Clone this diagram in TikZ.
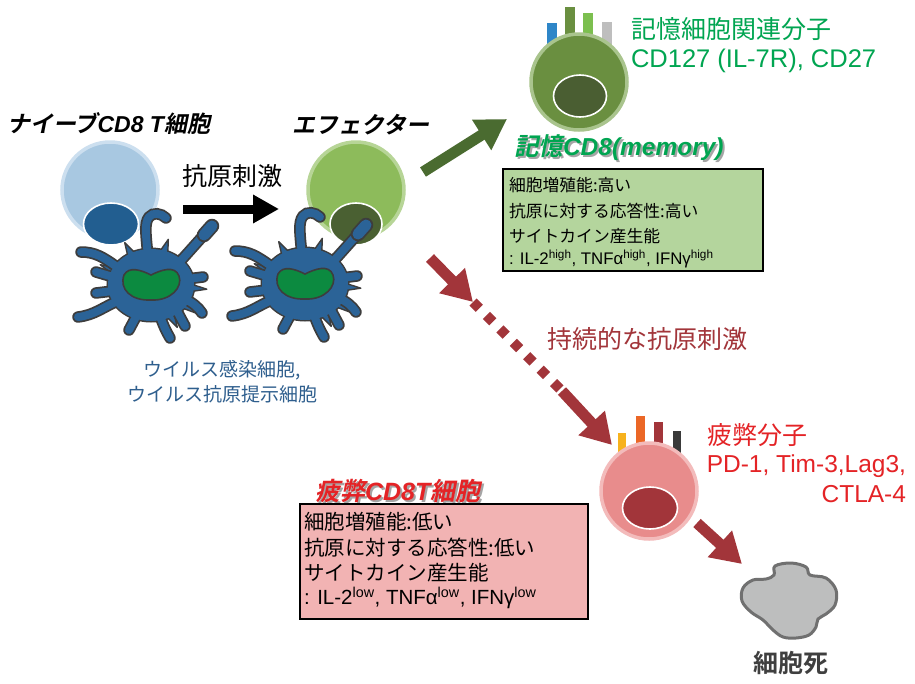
\documentclass[tikz,border=0pt]{standalone}
\usepackage{fontspec}
\setmainfont{Liberation Sans}
\newfontfamily\jp{Noto Sans CJK JP}
\newfontfamily\jpb{Noto Sans CJK JP Bold}
\newfontfamily\jpbi{Noto Sans CJK JP Bold}[FakeSlant=0.2]
\usetikzlibrary{arrows.meta,shapes.geometric}

\newcommand\fsz[1]{\fontsize{#1}{#1}\selectfont}
% text with a soft drop shadow behind it
\newcommand\shadowtext[2]{\makebox[0pt][l]{\hspace{2pt}\raisebox{-2pt}{\color{shadowgrey}#2}}{\color{#1}#2}}

\definecolor{naivefill}{HTML}{A8C8E1}
\definecolor{naiverim}{HTML}{CCDFEF}
\definecolor{naivenuc}{HTML}{225E90}
\definecolor{efffill}{HTML}{8DBB5B}
\definecolor{effrim}{HTML}{B7D597}
\definecolor{effnuc}{HTML}{4A6032}
\definecolor{memfill}{HTML}{6A8F40}
\definecolor{memrim}{HTML}{A9C48D}
\definecolor{memnuc}{HTML}{4A5E32}
\definecolor{exhfill}{HTML}{E88C8C}
\definecolor{exhrim}{HTML}{F3BBBB}
\definecolor{exhnuc}{HTML}{A2353A}
\definecolor{dcblue}{HTML}{2B6397}
\definecolor{dcline}{HTML}{3D3D3D}
\definecolor{dcgreen}{HTML}{0C8A40}
\definecolor{textgreen}{HTML}{00A551}
\definecolor{textred}{HTML}{E42326}
\definecolor{darkred}{HTML}{A2353A}
\definecolor{txtblue}{HTML}{2F5F8E}
\definecolor{gboxfill}{HTML}{B4D59D}
\definecolor{pboxfill}{HTML}{F2B3B3}
\definecolor{deadfill}{HTML}{BDBEBE}
\definecolor{deadline}{HTML}{707070}
\definecolor{deathtext}{HTML}{3F3F3F}
\definecolor{arrowgreen}{HTML}{4A6B30}
\definecolor{barblue}{HTML}{2E86C8}
\definecolor{barolive}{HTML}{6A8F40}
\definecolor{barlight}{HTML}{7CBF4F}
\definecolor{bargrey}{HTML}{BEBEBE}
\definecolor{baryellow}{HTML}{F7B21D}
\definecolor{barorange}{HTML}{EB6726}
\definecolor{bardark}{HTML}{3A3A3A}
\definecolor{shadowgrey}{HTML}{A5A5A5}

\tikzset{
  cellbody/.style={circle, inner sep=0pt, minimum size=96pt, line width=3.5pt},
  nucleus/.style={ellipse, inner sep=0pt, draw=white, line width=1.6pt},
  arm/.style={line width=8pt, draw=dcblue, line cap=round,
    preaction={draw=dcline, line width=11.5pt, line cap=round}},
  fatarrow/.style={line width=11pt, -{Triangle[length=30pt,width=34pt]}},
  plain/.style={inner sep=0pt, outer sep=0pt},
  boxtext/.style={plain, anchor=west, align=left},
  infobox/.style={draw=black, line width=1.6pt},
  dcell/.pic={
    % outline of the cell body
    \draw[dcline, line width=3pt] (0,0) ellipse[x radius=43pt, y radius=36pt];
    % small spikes around the body
    \foreach \a in {-118,-72,-48,5,36,62,112,148,205}
      \filldraw[fill=dcblue, draw=dcline, line width=1.4pt, line join=round]
        ({38*cos(\a-8)},{31*sin(\a-8)}) -- ({56*cos(\a)},{48*sin(\a)})
        -- ({38*cos(\a+8)},{31*sin(\a+8)}) -- cycle;
    % dendrites
    \draw[arm] (-3,-28) .. controls (-5,-50) and (-7,-62) .. (-2,-68)
               .. controls (2,-73) and (10,-72) .. (15,-67);
    \draw[arm] (26,-20) -- (60,-58);
    \draw[arm, line width=11pt, preaction={draw=dcline, line width=14.5pt, line cap=round}] (53,-50) -- (61,-59);
    \draw[arm] (-34,-18) .. controls (-48,-28) and (-56,-33) .. (-70,-33);
    \draw[arm] (-38,-8) -- (-55,-13);
    \draw[arm] (-38,6) -- (-55,8);
    \draw[arm] (-33,16) .. controls (-48,22) and (-56,30) .. (-73,32);
    \draw[arm] (8,28) .. controls (12,40) and (15,46) .. (19,53);
    \draw[arm] (-14,30) -- (-22,45);
    \draw[arm] (36,-6) -- (52,-8);
    \draw[arm] (34,14) .. controls (42,18) and (47,22) .. (51,28);
    \draw[arm] (26,26) -- (34,41);
    % body fill merges the dendrites with the body
    \fill[dcblue] (0,0) ellipse[x radius=43pt, y radius=36pt];
    % kidney shaped nucleus
    \draw[fill=dcgreen, draw=dcline, line width=1.6pt]
      (-27,-10) .. controls (-22,-19) and (-10,-15) .. (0,-10)
      .. controls (10,-15) and (24,-20) .. (28,-9)
      .. controls (32,2) and (20,16) .. (0,15)
      .. controls (-20,16) and (-32,4) .. cycle;
  }
}

\begin{document}
\begin{tikzpicture}[x=1pt, y=-1pt]
\useasboundingbox (0,0) rectangle (915,683);
\fill[white] (0,0) rectangle (915,683);

% ---------- naive cell with antigen presenting cell ----------
\node[cellbody, fill=naivefill, draw=naiverim] (naive) at (110,190) {};
\node[nucleus, fill=naivenuc, minimum width=55pt, minimum height=42pt] (naivenuc) at (111,224) {};
\pic (dcA) at (151,285) {dcell};

% ---------- effector cell with antigen presenting cell ----------
\node[cellbody, fill=efffill, draw=effrim] (effector) at (356,190) {};
\node[nucleus, fill=effnuc, minimum width=52pt, minimum height=42pt] (effnuc) at (356,224) {};
\pic (dcB) at (305,284) {dcell};

% ---------- titles ----------
\node[plain, anchor=west] (naivetitle) at (7,124)
  {\fsz{23}{\jpbi ナイーブ}{\bfseries\itshape CD8 T}{\jpbi 細胞}};
\node[plain, anchor=west] (efftitle) at (292,125) {\fsz{23}\jpbi エフェクター};
\node[plain] (stimlabel) at (232,176) {\fsz{25}\jp 抗原刺激};
\node[plain, align=center, text=txtblue, font={\fontsize{19}{25}\selectfont\jp}] (apclabel) at (222,382)
  {ウイルス感染細胞,\\ ウイルス抗原提示細胞};

% antigen stimulation arrow
\coordinate (stimfrom) at (183,209);
\coordinate (stimto) at (279,209);
\draw[line width=9pt, -{Triangle[length=26pt,width=27pt]}] (stimfrom) -- (stimto);

% ---------- memory cell ----------
\fill[barblue]  (547,23) rectangle (557,70);
\fill[barolive] (565,7)  rectangle (575,70);
\fill[barlight] (583,13) rectangle (593,70);
\fill[bargrey]  (602,22) rectangle (612,70);
\node[cellbody, fill=memfill, draw=memrim] (memory) at (579,82) {};
\node[nucleus, fill=memnuc, minimum width=53pt, minimum height=42pt] (memnuc) at (580,96) {};

\node[plain, anchor=west, text=textgreen] (memmol) at (631,29) {\fsz{25}\jp 記憶細胞関連分子};
\node[plain, anchor=west, text=textgreen] (memmarkers) at (631,61) {\fsz{25.5}CD127 (IL-7R), CD27};

\node[plain, anchor=west] (memtitle) at (514,149)
  {\fsz{24.5}\shadowtext{textgreen}{{\jpbi 記憶}{\bfseries\itshape CD8(memory)}}};

\coordinate (gboxnw) at (503,169);
\coordinate (gboxse) at (763,271);
\draw[infobox, fill=gboxfill] (gboxnw) rectangle (gboxse);
\node[boxtext] (gl1) at (509,185) {\fsz{16.8}\jp 細胞増殖能:高い};
\node[boxtext] (gl2) at (509,211) {\fsz{16.8}\jp 抗原に対する応答性:高い};
\node[boxtext] (gl3) at (509,236) {\fsz{16.8}\jp サイトカイン産生能};
\node[boxtext] (gl4) at (509,259)
  {\fsz{16.8}: IL-2\textsuperscript{high}, TNFα\textsuperscript{high}, IFNγ\textsuperscript{high}};

% effector -> memory
\coordinate (toMemFrom) at (423,172);
\coordinate (toMemTo) at (507,119);
\draw[fatarrow, draw=arrowgreen, fill=arrowgreen] (toMemFrom) -- (toMemTo);

% ---------- persistent stimulation: effector -> exhausted ----------
\coordinate (exA) at (430,258);
\coordinate (exB) at (473,302);
\coordinate (exC) at (562,391);
\coordinate (exD) at (612,445);
\draw[fatarrow, draw=darkred, fill=darkred] (exA) -- (exB);
\draw[darkred, line width=10pt, dash pattern=on 9pt off 10pt] (exB) -- (exC);
\draw[fatarrow, draw=darkred, fill=darkred] (exC) -- (exD);
\node[plain, anchor=west, text=darkred] (persist) at (547,339) {\fsz{25}\jp 持続的な抗原刺激};

% ---------- exhausted cell ----------
\fill[baryellow] (618,433) rectangle (626,480);
\fill[barorange] (636,416) rectangle (645,480);
\fill[darkred]   (654,422) rectangle (663,480);
\fill[bardark]   (673,431) rectangle (681,480);
\node[cellbody, fill=exhfill, draw=exhrim] (exhausted) at (649,491) {};
\node[nucleus, fill=exhnuc, minimum width=55pt, minimum height=42pt] (exhnuc) at (650,508) {};

\node[plain, anchor=west, text=textred] (exhmol) at (707,435) {\fsz{25}\jp 疲弊分子};
\node[plain, anchor=east, text=textred, align=right, font={\fontsize{24.5}{30}\selectfont}] (exhmarkers) at (906,479)
  {PD-1, Tim-3,Lag3,\\ CTLA-4};

\node[plain, anchor=west] (exhtitle) at (315,492)
  {\fsz{25}\shadowtext{textred}{{\jpbi 疲弊}{\bfseries\itshape CD8T}{\jpbi 細胞}}};
\draw[textred, line width=1.6pt] ([yshift=-2pt]exhtitle.south west) -- ([yshift=-2pt]exhtitle.south east);

\coordinate (pboxnw) at (300,504);
\coordinate (pboxse) at (588,619);
\draw[infobox, fill=pboxfill] (pboxnw) rectangle (pboxse);
\node[boxtext] (pl1) at (304,522) {\fsz{20.5}\jp 細胞増殖能:低い};
\node[boxtext] (pl2) at (304,548) {\fsz{20.5}\jp 抗原に対する応答性:低い};
\node[boxtext] (pl3) at (304,573) {\fsz{20.5}\jp サイトカイン産生能};
\node[boxtext] (pl4) at (304,598)
  {\fsz{20.5}: IL-2\textsuperscript{low}, TNFα\textsuperscript{low}, IFNγ\textsuperscript{low}};

% ---------- cell death ----------
\coordinate (deathFrom) at (697,523);
\coordinate (deathTo) at (742,564);
\draw[fatarrow, draw=darkred, fill=darkred] (deathFrom) -- (deathTo);

\draw[fill=deadfill, draw=deadline, line width=3pt] plot[smooth cycle, tension=0.6] coordinates {
  (775,566) (791,563) (806,567) (810,575) (826,578) (836,590) (835,605)
  (826,614) (818,619) (816,627) (809,635) (796,638) (783,637) (773,630)
  (763,620) (751,612) (742,601) (743,588) (753,580) (766,579) (774,575)};
\node[plain, text=deathtext] (deathlabel) at (791,663) {\fsz{25}\jpb 細胞死};

\end{tikzpicture}
\end{document}
